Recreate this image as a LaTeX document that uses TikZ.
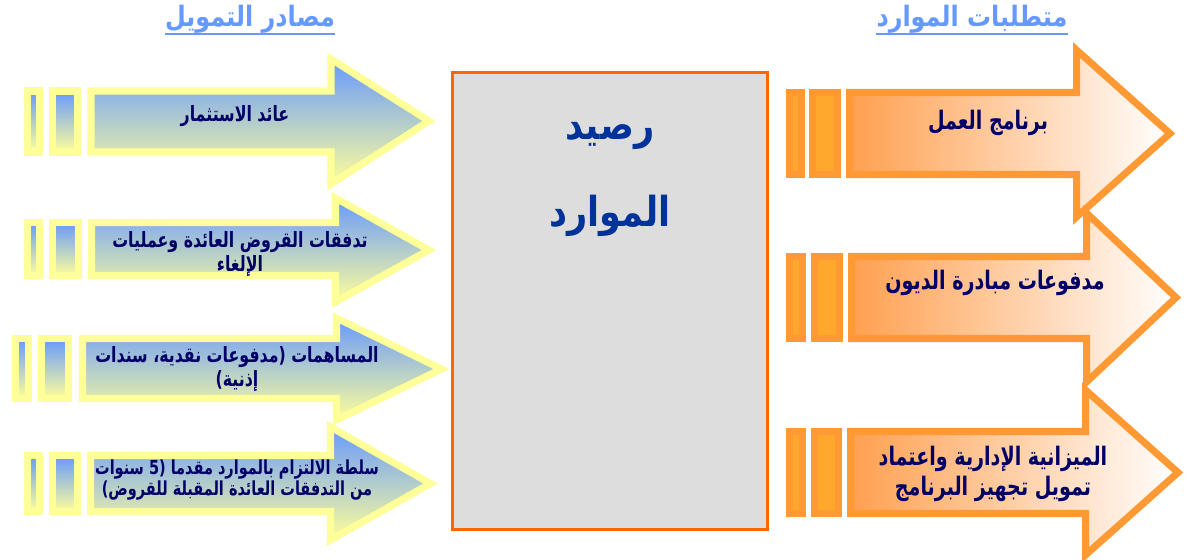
\documentclass[tikz,border=0pt]{standalone}
\usepackage{fontspec}
\usepackage{xcolor}
\usetikzlibrary{positioning}
\TeXXeTstate=1
\newfontfamily\arabicfont[Script=Arabic, FakeStretch=0.85]{DejaVu Sans}
\newfontfamily\arabiclabel[Script=Arabic, FakeStretch=0.75]{DejaVu Sans}
\definecolor{SrcBlue}{RGB}{102,153,255}
\definecolor{SrcYellow}{RGB}{255,255,153}
\definecolor{ReqOrange}{RGB}{255,153,51}
\definecolor{ReqLight}{RGB}{255,160,80}
\definecolor{ReqMid}{RGB}{255,218,195}
\definecolor{BoxOrange}{RGB}{255,102,0}
\definecolor{BoxGray}{RGB}{221,221,221}
\definecolor{TitleBlue}{RGB}{0,51,153}
\definecolor{HeadBlue}{RGB}{102,153,255}
\definecolor{LabelNavy}{RGB}{0,0,102}

\begin{document}
\begin{tikzpicture}[x=0.02cm, y=-0.02cm,
    srcshape/.style={draw=SrcYellow, line width=4pt, top color=SrcBlue, bottom color=SrcYellow},
    reqshape/.style={draw=ReqOrange, line width=4pt, left color=ReqLight, middle color=ReqMid, right color=white},
    reqbar/.style={draw=ReqOrange, line width=4pt, fill=ReqOrange!85!yellow},
    label/.style={font=\arabiclabel\bfseries\fontsize{12}{13.5}\selectfont, text=LabelNavy, align=center, inner sep=0pt},
    smalllabel/.style={label, font=\arabiclabel\bfseries\fontsize{11}{12}\selectfont},
    biglabel/.style={label, font=\arabiclabel\bfseries\fontsize{14.5}{17}\selectfont},
    header/.style={font=\arabicfont\bfseries\fontsize{16}{18}\selectfont, text=HeadBlue, anchor=base, inner sep=0pt},
    title/.style={font=\arabicfont\bfseries\fontsize{23.5}{28}\selectfont, text=TitleBlue, anchor=base, inner sep=0pt}]
    \useasboundingbox (0,0) rectangle (1185,560);

    % Headers
    \node[header] (hdrSrc) at (250,27) {\beginR مصادر التمويل\endR};
    \node[header] (hdrReq) at (972,27) {\beginR متطلبات الموارد\endR};
    \draw[HeadBlue, line width=1pt] ([yshift=-4pt]hdrSrc.base west) -- ([yshift=-4pt]hdrSrc.base east);
    \draw[HeadBlue, line width=1pt] ([yshift=-4pt]hdrReq.base west) -- ([yshift=-4pt]hdrReq.base east);

    % Funding sources (left arrows)
    \draw[srcshape] (27.5,91) rectangle (39.5,152);
    \draw[srcshape] (52.5,91) rectangle (77.5,152);
    \draw[srcshape] (91,91) -- (331,91) -- (331,59) -- (429,121) -- (331,184) -- (331,152) -- (91,152) -- cycle;

    \draw[srcshape] (27.5,222.5) rectangle (39.5,275.5);
    \draw[srcshape] (52.5,222.5) rectangle (78.5,275.5);
    \draw[srcshape] (91.5,222.5) -- (335.5,222.5) -- (335.5,198) -- (429,250) -- (335.5,302) -- (335.5,275.5) -- (91.5,275.5) -- cycle;

    \draw[srcshape] (15.5,338.5) rectangle (28.5,398.5);
    \draw[srcshape] (41.5,338.5) rectangle (68.5,398.5);
    \draw[srcshape] (82.5,338.5) -- (336.5,338.5) -- (336.5,318) -- (441.5,369) -- (336.5,420) -- (336.5,398.5) -- (82.5,398.5) -- cycle;

    \draw[srcshape] (27.5,455.5) rectangle (39.5,511.5);
    \draw[srcshape] (52.5,455.5) rectangle (77.5,511.5);
    \draw[srcshape] (90.5,455.5) -- (330.5,455.5) -- (330.5,427) -- (430.5,483.5) -- (330.5,540) -- (330.5,511.5) -- (90.5,511.5) -- cycle;

    \node[label] (src1) at (235,116) {\beginR عائد الاستثمار\endR};
    \node[label] (src2) at (240,254) {\beginR تدفقات القروض العائدة وعمليات\endR\\\beginR الإلغاء\endR};
    \node[label] (src3) at (237,369) {\beginR المساهمات (مدفوعات نقدية، سندات\endR\\\beginR إذنية)\endR};
    \node[smalllabel] (src4) at (237,480) {\beginR سلطة الالتزام بالموارد مقدما (5 سنوات\endR\\\beginR من التدفقات العائدة المقبلة للقروض)\endR};

    % Resource balance
    \node[draw=BoxOrange, fill=BoxGray, line width=1.3pt, minimum width=6.3cm, minimum height=9.14cm] (balance) at (610,301) {};
    \node[title] (balTop) at (610,140) {\beginR رصيد\endR};
    \node[title] (balBot) at (610,227) {\beginR الموارد\endR};

    % Resource requirements (right arrows)
    \draw[reqbar] (789.5,92.5) rectangle (801.5,174.5);
    \draw[reqbar] (812.5,92.5) rectangle (837.5,174.5);
    \draw[reqshape] (849.5,92.5) -- (1076.5,92.5) -- (1076.5,50) -- (1170,133.5) -- (1076.5,217) -- (1076.5,174.5) -- (849.5,174.5) -- cycle;

    \draw[reqbar] (789.5,256.5) rectangle (802.5,338.5);
    \draw[reqbar] (814.5,256.5) rectangle (839.5,338.5);
    \draw[reqshape] (851.5,256.5) -- (1086.5,256.5) -- (1086.5,213) -- (1176,297.5) -- (1086.5,382) -- (1086.5,338.5) -- (851.5,338.5) -- cycle;

    \draw[reqbar] (789.5,431.5) rectangle (802.5,513.5);
    \draw[reqbar] (814.5,431.5) rectangle (838.5,513.5);
    \draw[reqshape] (850.5,431.5) -- (1085.5,431.5) -- (1085.5,390) -- (1178,472.5) -- (1085.5,555) -- (1085.5,513.5) -- (850.5,513.5) -- cycle;

    \node[biglabel] (req1) at (988,123) {\beginR برنامج العمل\endR};
    \node[biglabel] (req2) at (995,283) {\beginR مدفوعات مبادرة الديون\endR};
    \node[biglabel] (req3) at (993,474) {\beginR الميزانية الإدارية واعتماد\endR\\\beginR تمويل تجهيز البرنامج\endR};
\end{tikzpicture}
\end{document}
